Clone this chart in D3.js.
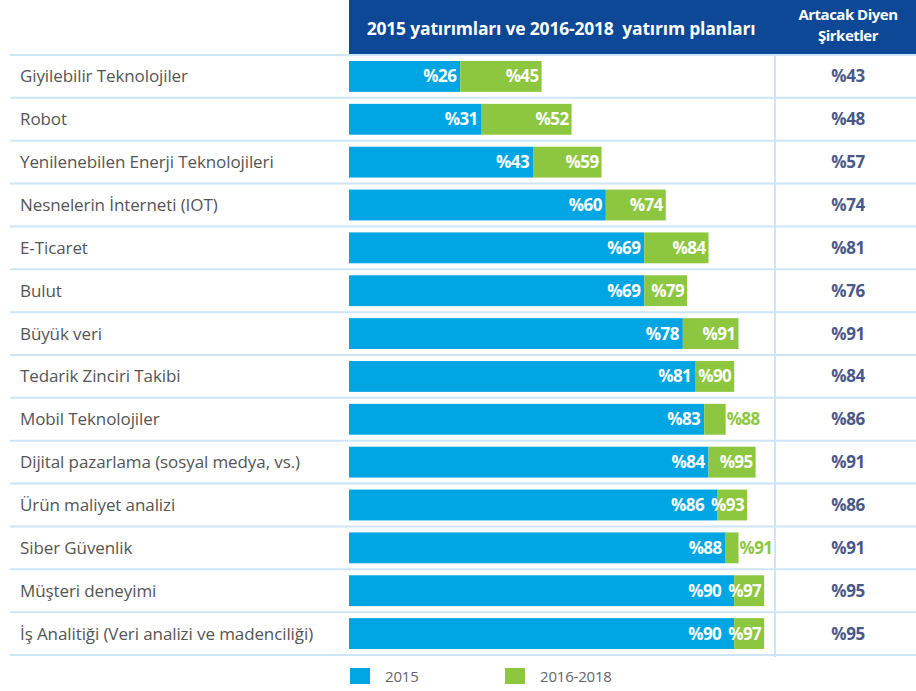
<!DOCTYPE html>
<html>
<head>
<meta charset="utf-8">
<script src="https://cdn.jsdelivr.net/npm/d3@7"></script>
<style>
  body{margin:0;background:#fff;}
  svg{display:block;font-family:"Open Sans",sans-serif;}
</style>
</head>
<body>
<div id="chart"></div>
<script>
var categories = ["Giyilebilir Teknolojiler","Robot","Yenilenebilen Enerji Teknolojileri","Nesnelerin İnterneti (IOT)","E-Ticaret","Bulut","Büyük veri","Tedarik Zinciri Takibi","Mobil Teknolojiler","Dijital pazarlama (sosyal medya, vs.)","Ürün maliyet analizi","Siber Güvenlik","Müşteri deneyimi","İş Analitiği (Veri analizi ve madenciliği)"];
var invest2015 = [26,31,43,60,69,69,78,81,83,84,86,88,90,90];
var plan2016_2018 = [45,52,59,74,84,79,91,90,88,95,93,91,97,97];
var willIncrease = [43,48,57,74,81,76,91,84,86,91,86,91,95,95];
var seriesNames = ["2015","2016-2018"];

var W = 916, H = 691;
var colors = {blue:"#00a5e3",green:"#8dc63f",navy:"#0c4896",line:"#cde6f7",label:"#555",value:"#4a5888"};

var svg = d3.select("#chart").append("svg").attr("width",W).attr("height",H);

var x = d3.scaleLinear().domain([0,100]).range([349,777]);
var y = d3.scaleBand().domain(categories).range([55,655]).paddingInner(0.28).paddingOuter(0.14);
var colX = 775;

var rows = categories.map(function(c,i){
  return {name:c,a:invest2015[i],b:plan2016_2018[i],r:willIncrease[i]};
});

// header
svg.append("rect").attr("x",349).attr("y",0).attr("width",W-349).attr("height",54).style("fill",colors.navy);
svg.append("text").attr("x",561).attr("y",35).attr("text-anchor","middle")
  .attr("xml:space","preserve").style("white-space","pre")
  .style("fill","#fff").style("font-size","17.5px").style("font-weight","bold").style("letter-spacing","-0.2px")
  .text("2015 yatırımları ve 2016-2018  yatırım planları");
svg.append("text").attr("x",848).attr("y",20).attr("text-anchor","middle")
  .style("fill","#fff").style("font-size","15px").style("font-weight","bold").style("letter-spacing","-0.5px")
  .text("Artacak Diyen");
svg.append("text").attr("x",848).attr("y",41).attr("text-anchor","middle")
  .style("fill","#fff").style("font-size","15px").style("font-weight","bold").style("letter-spacing","-0.5px")
  .text("Şirketler");

// row separators
var step = y.step();
var lineYs = [y(categories[0]) + y.bandwidth()/2 - step/2].concat(categories.map(function(c){
  return y(c) + y.bandwidth()/2 + step/2;
}));
svg.selectAll(".sep").data(lineYs).enter().append("line")
  .attr("class","sep")
  .attr("x1",10).attr("x2",W)
  .attr("y1",function(d){return d}).attr("y2",function(d){return d})
  .style("stroke",colors.line).style("stroke-width",2);
svg.append("line").attr("x1",colX).attr("x2",colX).attr("y1",54).attr("y2",lineYs[lineYs.length-1]+2)
  .style("stroke",colors.line).style("stroke-width",2);

var g = svg.selectAll(".row").data(rows).enter().append("g")
  .attr("class","row")
  .attr("transform",function(d){return "translate(0,"+y(d.name)+")"});

var bh = y.bandwidth();

g.append("text").attr("x",20).attr("y",bh/2+6)
  .style("fill",colors.label).style("font-size","17px").style("letter-spacing","-0.1px")
  .text(function(d){return d.name});

g.append("rect").attr("x",x(0)).attr("y",0).attr("height",bh)
  .attr("width",function(d){return x(d.a)-x(0)})
  .style("fill",colors.blue);
g.append("rect").attr("x",function(d){return x(d.a)}).attr("y",0).attr("height",bh)
  .attr("width",function(d){return x(d.b)-x(d.a)})
  .style("fill",colors.green);

function outside(d){return d.b-d.a<6}

var greenLabels = g.append("text")
  .attr("x",function(d){return outside(d)?x(d.b)+1:x(d.b)-3})
  .attr("y",bh/2+6)
  .attr("text-anchor",function(d){return outside(d)?"start":"end"})
  .style("fill",function(d){return outside(d)?colors.green:"#fff"})
  .style("font-size","17px").style("font-weight","bold").style("letter-spacing","-0.6px")
  .text(function(d){return "%"+d.b});

// blue label gets pushed left when the green label spills over the blue part
g.append("text")
  .attr("x",function(d,i){
    var gl = greenLabels.nodes()[i];
    var start = outside(d)?x(d.b):x(d.b)-3-gl.getComputedTextLength();
    return Math.min(x(d.a)-4,start-7);
  })
  .attr("y",bh/2+6)
  .attr("text-anchor","end")
  .style("fill","#fff").style("font-size","17px").style("font-weight","bold").style("letter-spacing","-0.6px")
  .text(function(d){return "%"+d.a});

g.append("text").attr("x",848).attr("y",bh/2+6).attr("text-anchor","middle")
  .style("fill",colors.value).style("font-size","17px").style("font-weight","bold").style("letter-spacing","-0.4px")
  .text(function(d){return "%"+d.r});

// legend
var legend = svg.selectAll(".legend").data(seriesNames).enter().append("g")
  .attr("class","legend")
  .attr("transform",function(d,i){return "translate("+(350+i*155)+",668)"});
legend.append("rect").attr("width",20).attr("height",16)
  .style("fill",function(d,i){return i==0?colors.blue:colors.green});
legend.append("text").attr("x",35).attr("y",14)
  .style("fill","#666").style("font-size","15px").style("letter-spacing","-0.2px")
  .text(function(d){return d});
</script>
</body>
</html>
